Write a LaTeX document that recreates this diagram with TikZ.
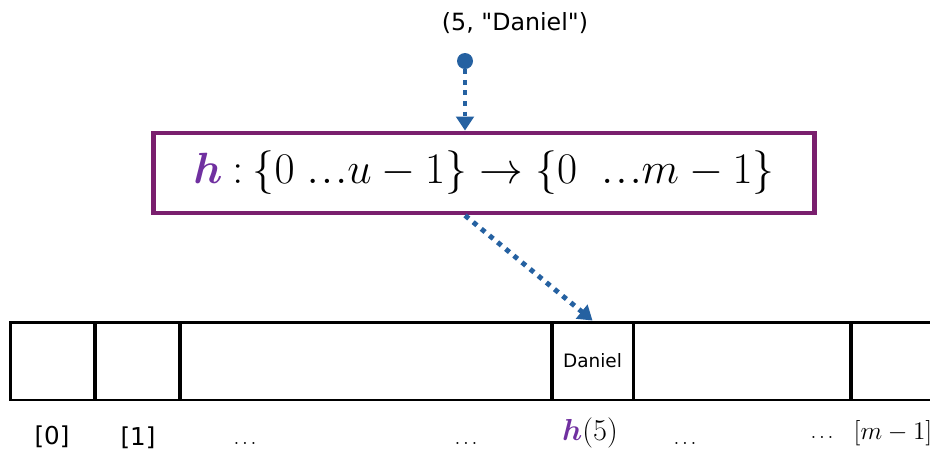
\documentclass[tikz,border=0pt]{standalone}
\usepackage{amsmath, amssymb}
\usepackage{fontspec}
\setsansfont{DejaVu Sans}[Ligatures=TeXOff]
\usepackage{tikz}
\usetikzlibrary{
arrows.meta,
positioning
}
\definecolor{hashblue}{HTML}{2561A1}
\definecolor{hashpurple}{HTML}{7A1F6E}
\definecolor{hashviolet}{HTML}{7030A0}
\newcommand{\hashh}{\textcolor{hashviolet}{\boldsymbol{h}}}
\newcommand{\tdots}{\mathord{.\mkern1mu.\mkern1mu.}}

\begin{document}
\begin{tikzpicture}[
  x=0.02cm, y=-0.02cm,
  cell/.style={draw, line width=1.7pt, minimum height=1.56cm, inner sep=0pt,
               font=\sffamily\fontsize{10.5}{12}\selectfont},
  idx/.style={anchor=base, font=\fontsize{14}{16}\selectfont},
  sfidx/.style={anchor=base, font=\sffamily\fontsize{14}{16}\selectfont},
  dots/.style={anchor=base, font=\fontsize{11}{13}\selectfont},
  dotarrow/.style={hashblue, line width=2.8pt, dash pattern=on 2.8pt off 3.2pt,
                   -{Triangle[width=10pt, length=8pt]}},
  fnbox/.style={draw=hashpurple, line width=2.8pt, minimum width=13.22cm,
                minimum height=1.6cm, font=\fontsize{30}{33}\selectfont}
]
\useasboundingbox (0,0) rectangle (930,451);

%% Input pair
\node[anchor=base, font=\sffamily\fontsize{13.5}{16}\selectfont] (pair) at (515,30)
  {(5, "Daniel")};
\node[circle, fill=hashblue, inner sep=0pt, minimum size=0.32cm] (dot) at (465,61) {};

%% Hash function box
\node[fnbox] (hashfn) at (484,173)
  {$\hashh \mathbin{:} \{0\;\tdots u-1\} \to \{0\;\;\tdots m-1\}$};

%% Arrow: pair into hash function
\draw[dotarrow] (dot.south) -- (hashfn.north -| dot);

%% Table cells
\node[cell, minimum width=1.7cm]  (c0) at (52.5,361) {};
\node[cell, minimum width=1.7cm]  (c1) at (137.5,361) {};
\node[cell, minimum width=7.44cm] (c2) at (366,361) {};
\node[cell, minimum width=1.62cm] (c5) at (592.5,361) {Daniel};
\node[cell, minimum width=4.36cm] (c6) at (742,361) {};
\node[cell, minimum width=2.18cm] (cm) at (905.5,361) {};

%% Arrow: hash value into its cell
\coordinate (out) at (hashfn.south -| dot);
\draw[dotarrow] (out) -- (c5.north);

%% Indices
\node[sfidx] (i0) at (52,444) {[0]};
\node[sfidx] (i1) at (138,445) {[1]};
\node[dots] (d1) at (245,444) {$\ldots$};
\node[dots] (d2) at (466,444) {$\ldots$};
\node[idx, font=\fontsize{16}{18}\selectfont] (i5) at (590,440) {$\hashh(5)$};
\node[dots] (d3) at (685,444) {$\ldots$};
\node[dots] (d4) at (822,438) {$\ldots$};
\node[idx] (im) at (893,439) {$[m-1]$};

\end{tikzpicture}
\end{document}
